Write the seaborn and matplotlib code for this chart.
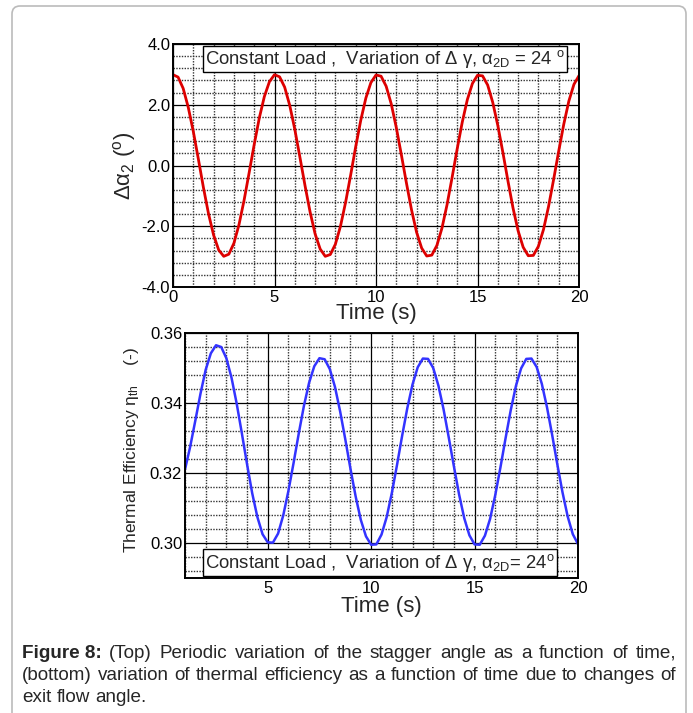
import numpy as np
import pandas as pd
import matplotlib
matplotlib.use("Agg")
import matplotlib.pyplot as plt
import seaborn as sns
from matplotlib import font_manager
from matplotlib.ticker import MultipleLocator, FormatStrFormatter
from matplotlib.patches import FancyBboxPatch
from matplotlib.transforms import IdentityTransform

# time axis and values
time_top = [i * 0.25 for i in range(81)]
delta_alpha2 = [
    2.99, 2.91, 2.54, 1.92, 1.12, 0.21, -0.73, -1.59, -2.29, -2.78,
    -2.99, -2.92, -2.56, -1.95, -1.15, -0.24, 0.69, 1.56, 2.27, 2.76,
    2.99, 2.92, 2.58, 1.98, 1.19, 0.28, -0.65, -1.52, -2.25, -2.75,
    -2.99, -2.93, -2.59, -2.00, -1.22, -0.32, 0.62, 1.49, 2.22, 2.73,
    2.98, 2.94, 2.61, 2.03, 1.25, 0.35, -0.58, -1.46, -2.20, -2.72,
    -2.98, -2.95, -2.63, -2.06, -1.29, -0.39, 0.55, 1.43, 2.17, 2.70,
    2.97, 2.95, 2.65, 2.08, 1.32, 0.43, -0.51, -1.40, -2.15, -2.69,
    -2.97, -2.96, -2.66, -2.11, -1.35, -0.46, 0.47, 1.36, 2.12, 2.67,
    2.96,
]

time_bot = [1 + i * 0.25 for i in range(77)]
eta_th = [
    0.3210, 0.3275, 0.3350, 0.3427, 0.3495, 0.3542, 0.3565, 0.3560, 0.3528, 0.3472,
    0.3398, 0.3313, 0.3225, 0.3142, 0.3074, 0.3025, 0.3002, 0.3001, 0.3027, 0.3079,
    0.3149, 0.3229, 0.3313, 0.3392, 0.3458, 0.3505, 0.3528, 0.3525, 0.3497, 0.3446,
    0.3376, 0.3296, 0.3212, 0.3133, 0.3066, 0.3019, 0.2995, 0.2996, 0.3024, 0.3074,
    0.3143, 0.3223, 0.3307, 0.3386, 0.3453, 0.3502, 0.3527, 0.3526, 0.3500, 0.3450,
    0.3382, 0.3302, 0.3219, 0.3139, 0.3071, 0.3022, 0.2996, 0.2995, 0.3021, 0.3069,
    0.3137, 0.3216, 0.3300, 0.3380, 0.3449, 0.3499, 0.3526, 0.3527, 0.3503, 0.3455,
    0.3388, 0.3309, 0.3225, 0.3145, 0.3076, 0.3025, 0.2997,
]

box_text = r"Constant Load ,  Variation of $\Delta$ $\gamma$, $\alpha_{\rm 2D}$ = 24 $^{\rm o}$"
box_text_bot = r"Constant Load ,  Variation of $\Delta$ $\gamma$, $\alpha_{\rm 2D}$= 24$^{\rm o}$"
caption_lines = [
    ["Figure 8:", "(Top)", "Periodic", "variation", "of", "the", "stagger", "angle", "as", "a",
     "function", "of", "time,"],
    ["(bottom)", "variation", "of", "thermal", "efficiency", "as", "a", "function", "of", "time",
     "due", "to", "changes", "of"],
    ["exit", "flow", "angle."],
]

sns.set_style("white")
plt.rcParams["font.family"] = ["Liberation Sans", "DejaVu Sans"]
plt.rcParams["mathtext.fontset"] = "custom"
plt.rcParams["mathtext.rm"] = "Liberation Sans"
plt.rcParams["mathtext.it"] = "Liberation Sans"
plt.rcParams["mathtext.default"] = "regular"

installed = {f.name for f in font_manager.fontManager.ttflist}
cap_family = "Liberation Sans Narrow" if "Liberation Sans Narrow" in installed else "Liberation Sans"

W, H = 693, 713
fig = plt.figure(figsize=(W / 100, H / 100), dpi=100)


def style_axes(ax, xmin, xmax, ymin, ymax, ymaj, ymin_step, yfmt):
    ax.set_xlim(xmin, xmax)
    ax.set_ylim(ymin, ymax)
    ax.xaxis.set_major_locator(MultipleLocator(5))
    ax.xaxis.set_minor_locator(MultipleLocator(1))
    ax.yaxis.set_major_locator(MultipleLocator(ymaj))
    ax.yaxis.set_minor_locator(MultipleLocator(ymin_step))
    ax.yaxis.set_major_formatter(FormatStrFormatter(yfmt))
    ax.grid(True, which="major", color="black", lw=0.9, ls="-")
    ax.grid(True, which="minor", color="#333333", lw=1.0, ls=(0, (1, 1)))
    ax.set_axisbelow(True)
    ax.tick_params(which="both", length=0, pad=2, labelsize=12, colors="black")
    for s in ax.spines.values():
        s.set_color("black")
        s.set_linewidth(1.4)
        s.set_visible(True)


# top panel
ax1 = fig.add_axes([173 / W, 1 - 287 / H, 406 / W, 243 / H])
sns.lineplot(x=time_top, y=delta_alpha2, ax=ax1, color="#dd0000", lw=2.0)
style_axes(ax1, 0, 20, -4.0, 4.0, 2.0, 0.4, "%.1f")
ax1.set_xlabel("Time (s)", fontsize=16, labelpad=-1)
ax1.set_ylabel(r"$\Delta\alpha_2$ ($^{\rm o}$)", fontsize=16)
ax1.yaxis.set_label_coords(-0.086, 0.5)
ax1.text(0.522, 0.938, box_text, transform=ax1.transAxes, ha="center", va="center",
         fontsize=13.3, bbox=dict(boxstyle="square,pad=0.12", fc="white", ec="black", lw=1.0))

# bottom panel
ax2 = fig.add_axes([185 / W, 1 - 578 / H, 393 / W, 245 / H])
sns.lineplot(x=time_bot, y=eta_th, ax=ax2, color="#3333ff", lw=1.8)
style_axes(ax2, 1, 20, 0.29, 0.36, 0.02, 0.004, "%.2f")
ax2.set_xlabel("Time (s)", fontsize=16, labelpad=0)
ax2.set_ylabel(r"Thermal Efficiency $\eta_{\rm th}$    (-)", fontsize=12.5)
ax2.yaxis.set_label_coords(-0.113, 0.52)
ax2.text(0.497, 0.063, box_text_bot, transform=ax2.transAxes, ha="center", va="center",
         fontsize=13.3, bbox=dict(boxstyle="square,pad=0.12", fc="white", ec="black", lw=1.0))

# outer rounded frame (bottom edge runs past the picture)
frame = FancyBboxPatch((12, -20), 674, 727, boxstyle="round,pad=0,rounding_size=8",
                       transform=IdentityTransform(), fc="none", ec="#bbbbbb", lw=1.2)
fig.patches.append(frame)

# justified caption
renderer = fig.canvas.get_renderer()
x_left, x_right = 22, 676
baselines = [658, 680, 702]


def make_words(size):
    out = []
    for li, words in enumerate(caption_lines):
        row = []
        for wi, w in enumerate(words):
            weight = "bold" if (li == 0 and wi == 0) else "normal"
            row.append(fig.text(0, 0, w, fontsize=size, fontweight=weight, family=cap_family,
                                ha="left", va="baseline"))
        out.append(row)
    return out


size = 14.0
while True:
    rows = make_words(size)
    sp = size * 0.278 * 100 / 72
    fits = all(sum(t.get_window_extent(renderer).width for t in r) + sp * (len(r) - 1)
               <= x_right - x_left for r in rows[:2])
    if fits or size < 9:
        break
    for r in rows:
        for t in r:
            t.remove()
    size -= 0.2

for li, row in enumerate(rows):
    widths = [t.get_window_extent(renderer).width for t in row]
    if li < len(rows) - 1:
        gap = (x_right - x_left - sum(widths)) / (len(row) - 1)
    else:
        gap = sp
    x = x_left
    for t, w in zip(row, widths):
        t.set_position((x / W, 1 - baselines[li] / H))
        x += w + gap

fig.savefig("out.png", dpi=100)
